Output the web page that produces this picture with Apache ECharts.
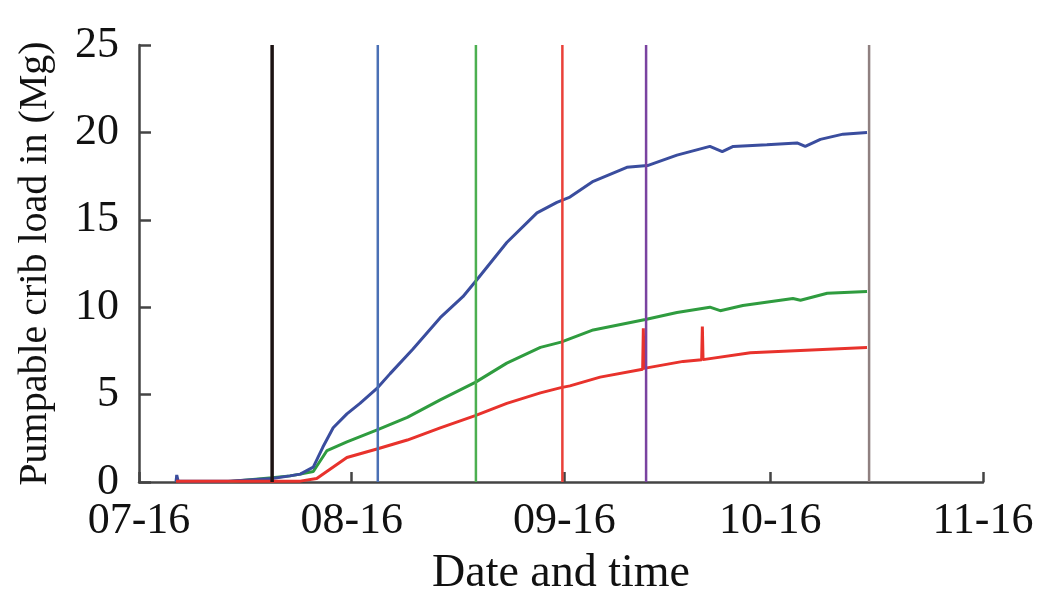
<!DOCTYPE html>
<html>
<head>
<meta charset="utf-8">
<script src="https://cdn.jsdelivr.net/npm/echarts@6/dist/echarts.min.js"></script>
<style>html,body{margin:0;padding:0;background:#fff;}#chart{width:1051px;height:595px;}</style>
</head>
<body>
<div id="chart"></div>
<script>
// x values are days since 07-16
const tickDays = [0, 31, 62, 92, 123];
const tickLabels = ['07-16', '08-16', '09-16', '10-16', '11-16'];
const yTicks = [0, 5, 10, 15, 20, 25];

const blueSeries = [[5.4,0.02],[5.5,0.4],[5.7,0.05],[13,0.05],[19.4,0.2],[22,0.35],[23.5,0.45],[25.4,0.85],[26.8,2.0],[28.3,3.1],[30.3,3.9],[32.2,4.5],[34.8,5.4],[36.6,6.2],[39.9,7.6],[43.9,9.4],[47.2,10.6],[49.3,11.6],[53.6,13.7],[58,15.4],[60.9,16.0],[62.8,16.3],[66.2,17.2],[71.1,18.0],[74.1,18.1],[78.4,18.7],[83.2,19.2],[85.0,18.9],[86.6,19.2],[91.5,19.3],[95.9,19.4],[97.1,19.2],[99.3,19.6],[102.6,19.9],[106.1,20.0]];
const greenSeries = [[13,0.02],[19.4,0.25],[22,0.35],[23.5,0.45],[25.4,0.6],[27.4,1.8],[30.3,2.3],[34.8,3.0],[39.1,3.7],[43.9,4.7],[49,5.7],[53.6,6.8],[58.5,7.7],[61.5,8.0],[66.2,8.7],[73.8,9.3],[78.4,9.7],[83.2,10.0],[84.7,9.8],[88,10.1],[95.3,10.5],[96.4,10.4],[100.3,10.8],[106.1,10.9]];
const redSeries = [[5.4,0.05],[23.5,0.05],[25.9,0.2],[30.3,1.4],[34.8,1.9],[39.1,2.4],[43.9,3.1],[49,3.8],[53.6,4.5],[58.5,5.1],[61.5,5.4],[62.8,5.5],[67.2,6.0],[73.4,6.45],[73.5,8.8],[73.6,6.5],[79.3,6.9],[82.0,7.0],[82.1,8.9],[82.2,7.0],[89.1,7.4],[106.1,7.7]];

const markerDays = [19.4, 34.8, 49.1, 61.7, 73.9, 106.4];
const markerColors = ['#1c1212', '#4a70b5', '#4caf50', '#ea4038', '#7a43a0', '#8f8080'];

const serif = '"Liberation Serif", "Times New Roman", serif';

const series = [
  {type:'line', data: greenSeries, color:'#2f9c3f', lineStyle:{width:3}, showSymbol:false, z:3},
  {type:'line', data: blueSeries, color:'#3a4d9e', lineStyle:{width:3}, showSymbol:false, z:3},
  {type:'line', data: redSeries, color:'#e8322c', lineStyle:{width:3}, showSymbol:false, z:4}
];
markerDays.forEach((d, i) => {
  series.push({type:'line', data:[[d, 0], [d, 25]], color: markerColors[i],
    lineStyle:{width: i === 0 ? 3.5 : 2.5}, showSymbol:false, z:5});
});

const chart = echarts.init(document.getElementById('chart'));
chart.setOption({
  animation: false,
  backgroundColor: '#fff',
  grid: {left: 139, right: 68, top: 45, bottom: 113, containLabel: false, outerBoundsMode: 'none'},
  xAxis: {
    type: 'value', min: tickDays[0], max: tickDays[tickDays.length - 1],
    name: 'Date and time', nameLocation: 'middle', nameGap: 69,
    nameTextStyle: {fontFamily: serif, fontSize: 46, color: '#111'},
    axisLine: {show: true, lineStyle: {color: '#444', width: 2.5}},
    axisTick: {show: true, inside: true, length: 10, customValues: tickDays, lineStyle: {color: '#444', width: 2.5}},
    axisLabel: {customValues: tickDays, margin: 17, fontFamily: serif, fontSize: 44, color: '#111',
      formatter: v => tickLabels[tickDays.indexOf(v)] || ''},
    splitLine: {show: false}
  },
  yAxis: {
    type: 'value', min: yTicks[0], max: yTicks[yTicks.length - 1], interval: 5,
    name: 'Pumpable crib load in (Mg)', nameLocation: 'middle', nameGap: 84,
    nameTextStyle: {fontFamily: serif, fontSize: 40, color: '#111'},
    axisLine: {show: true, lineStyle: {color: '#444', width: 2.5}},
    axisTick: {show: true, inside: true, length: 12, lineStyle: {color: '#444', width: 2.5}},
    axisLabel: {margin: 20, fontFamily: serif, fontSize: 44, color: '#111'},
    splitLine: {show: false}
  },
  series: series
});
</script>
</body>
</html>
